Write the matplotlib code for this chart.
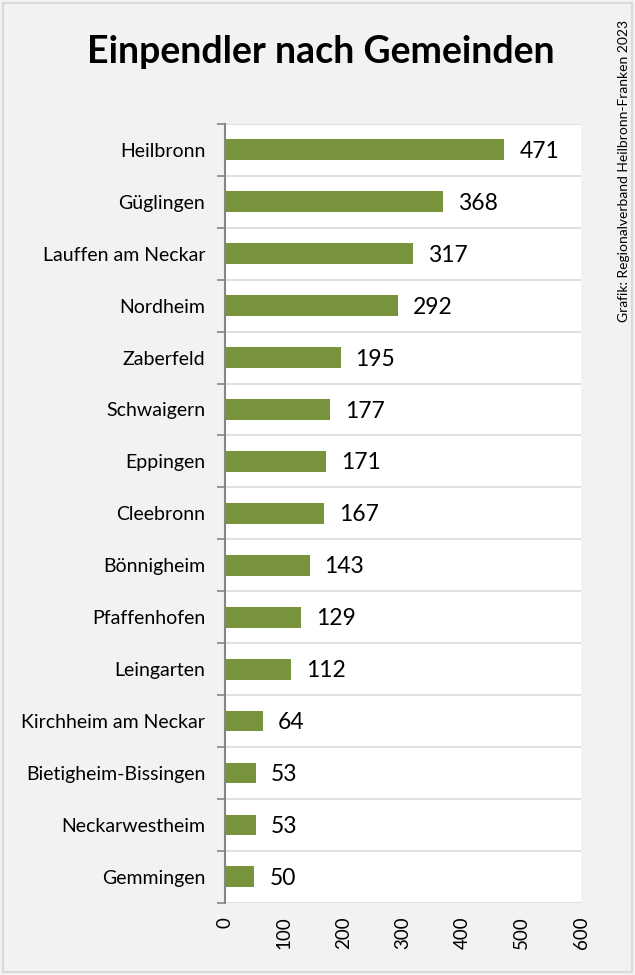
import matplotlib.pyplot as plt
import matplotlib.patches as mpatches
import numpy as np

# Data
gemeinden = ['Heilbronn', 'Güglingen', 'Lauffen am Neckar', 'Nordheim', 'Zaberfeld',
             'Schwaigern', 'Eppingen', 'Cleebronn', 'Bönnigheim', 'Pfaffenhofen',
             'Leingarten', 'Kirchheim am Neckar', 'Bietigheim-Bissingen',
             'Neckarwestheim', 'Gemmingen']
einpendler = [471, 368, 317, 292, 195, 177, 171, 167, 143, 129, 112, 64, 53, 53, 50]
xticks = [0, 100, 200, 300, 400, 500, 600]

plt.rcParams['font.family'] = ['Lato', 'DejaVu Sans']

fig = plt.figure(figsize=(6.35, 9.75), dpi=100, facecolor='#f2f2f2')
fig.patches.append(mpatches.Rectangle((0.004, 0.003), 0.992, 0.994, transform=fig.transFigure,
                                      fill=False, edgecolor='#d9d9d9', linewidth=1.5))
ax = fig.add_axes([0.354, 0.074, 0.561, 0.799])
ax.set_facecolor('white')

y = np.arange(len(gemeinden))
ax.barh(y, einpendler, height=0.4, color='#77933c', zorder=3)
for yi, v in zip(y, einpendler):
    ax.text(v + 25, yi + 0.03, str(v), va='center', ha='left', fontsize=16.5, color='black', zorder=4)

ax.set_xlim(0, 600)
ax.set_ylim(len(gemeinden) - 0.5, -0.5)
ax.set_yticks(y)
ax.set_yticklabels(gemeinden, fontsize=14)
ax.set_yticks(np.arange(-0.5, len(gemeinden)), minor=True)
ax.tick_params(axis='y', which='major', length=0, pad=14)
ax.tick_params(axis='y', which='minor', length=6, color='#868686', width=1.2)
ax.grid(axis='y', which='minor', color='#d9d9d9', linewidth=1.2, zorder=0)

ax.set_xticks(xticks)
ax.set_xticklabels([str(t) for t in xticks], rotation=90, fontsize=13.5)
ax.tick_params(axis='x', length=0, pad=10)

for s in ['top', 'right', 'bottom']:
    ax.spines[s].set_visible(False)
ax.spines['left'].set_color('#868686')
ax.spines['left'].set_linewidth(1.5)

fig.text(0.505, 0.947, 'Einpendler nach Gemeinden', ha='center', va='center',
         fontsize=27, fontweight='bold')
fig.text(0.982, 0.979, 'Grafik: Regionalverband Heilbronn-Franken 2023', ha='center', va='top',
         rotation=90, fontsize=10)

fig.savefig('out.png', dpi=100, facecolor=fig.get_facecolor())
